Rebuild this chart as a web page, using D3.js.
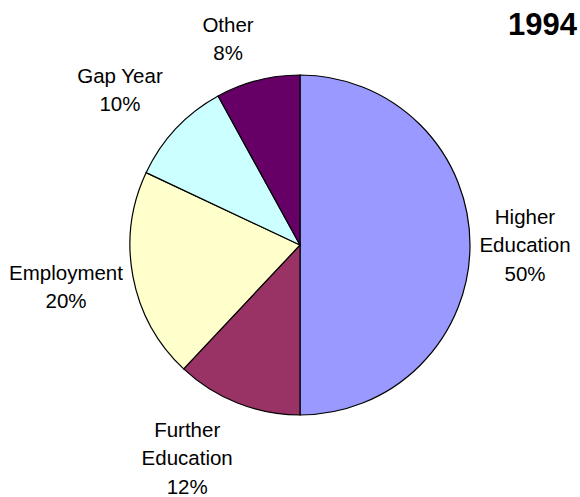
<!DOCTYPE html>
<html>
<head>
<meta charset="utf-8">
<script src="https://cdn.jsdelivr.net/npm/d3@7/dist/d3.min.js"></script>
<style>
  html, body { margin: 0; padding: 0; background: #fff; }
  svg { display: block; }
  text { font-family: "Liberation Sans", Arial, sans-serif; fill: #000; }
</style>
</head>
<body>
<svg id="chart" width="580" height="497"></svg>
<script>
// Destinations of school leavers, 1994 (percent)
const categories = ["Higher Education", "Further Education", "Employment", "Gap Year", "Other"];
const labelLines = [["Higher", "Education"], ["Further", "Education"], ["Employment"], ["Gap Year"], ["Other"]];
const values = [50, 12, 20, 10, 8];
const title = "1994";

const colors = ["#9999FF", "#993366", "#FFFFCC", "#CCFFFF", "#660066"];

const W = 580, H = 497;
const cx = 300, cy = 245, radius = 170;
const labelRadius = 225;
const lineGap = 28.5;

// Label displacement away from the radial anchor (keeps labels clear of each other)
const labelShift = {
  "Higher Education": [0, 1],
  "Further Education": [-30, 5],
  "Employment": [-13, 1],
  "Gap Year": [-16, 0],
  "Other": [-16, 13]
};

const svg = d3.select("#chart");

const data = categories.map((c, i) => ({ name: c, lines: labelLines[i], value: values[i], color: colors[i] }));

const pie = d3.pie().sort(null).value(d => d.value).startAngle(0).endAngle(2 * Math.PI);
const arc = d3.arc().innerRadius(0).outerRadius(radius);
const labelArc = d3.arc().innerRadius(labelRadius).outerRadius(labelRadius);

const g = svg.append("g").attr("transform", `translate(${cx},${cy})`);
const arcs = pie(data);

g.selectAll("path.slice")
  .data(arcs)
  .join("path")
  .attr("class", "slice")
  .attr("d", arc)
  .attr("fill", d => d.data.color)
  .attr("stroke", "#000")
  .attr("stroke-width", 1.2)
  .attr("stroke-linejoin", "miter");

const labels = g.selectAll("text.lbl")
  .data(arcs)
  .join("text")
  .attr("class", "lbl")
  .attr("text-anchor", "middle")
  .attr("font-size", 20.5);

labels.each(function(d) {
  const [x0, y0] = labelArc.centroid(d);
  const s = labelShift[d.data.name] || [0, 0];
  const x = x0 + s[0], y = y0 + s[1];
  const lines = d.data.lines.concat([d.data.value + "%"]);
  const n = lines.length;
  const t = d3.select(this);
  lines.forEach((ln, i) => {
    t.append("tspan")
      .attr("x", x)
      .attr("y", y + 6 + (i - (n - 1) / 2) * lineGap)
      .text(ln);
  });
});

svg.append("text")
  .attr("x", 577)
  .attr("y", 35)
  .attr("text-anchor", "end")
  .attr("font-size", 31)
  .attr("font-weight", "bold")
  .text(title);
</script>
</body>
</html>
